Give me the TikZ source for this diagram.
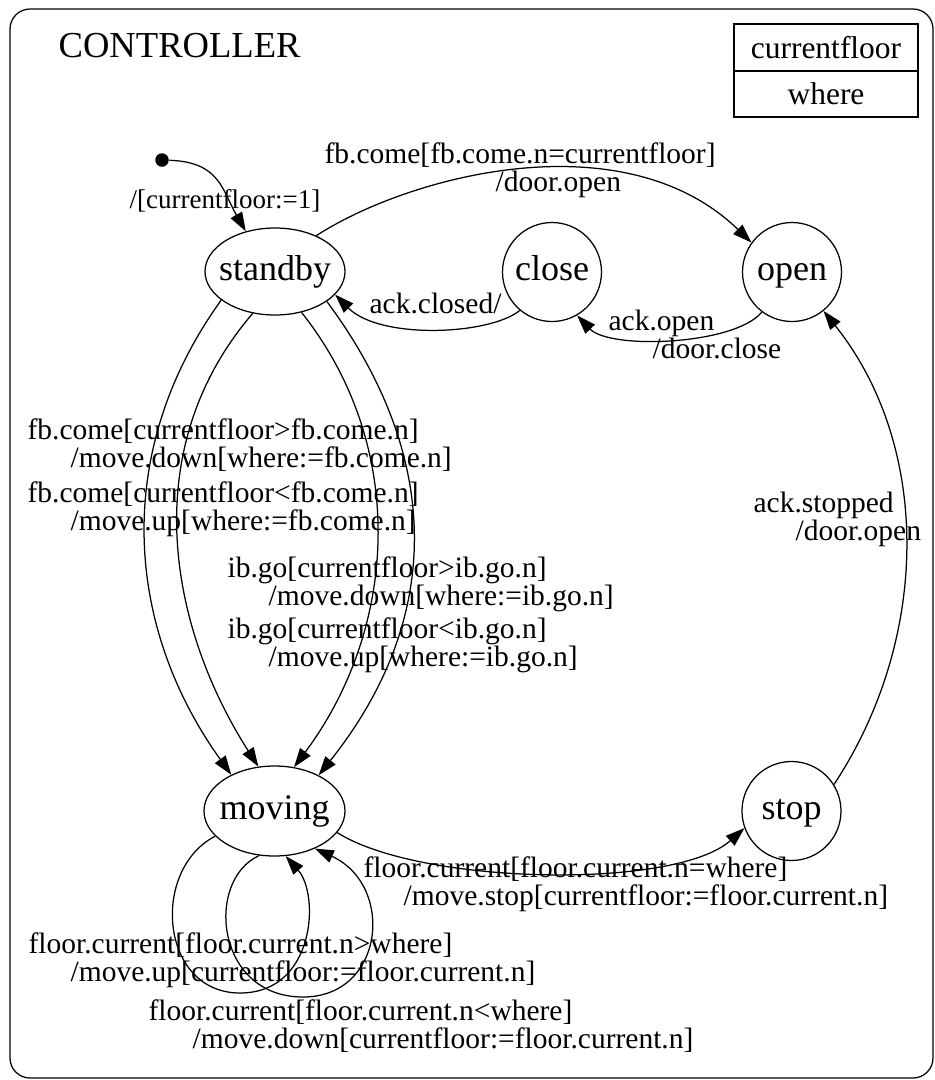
\documentclass[tikz,border=0pt]{standalone}
\usepackage{fontspec}
\setmainfont{Liberation Serif}
\usetikzlibrary{arrows.meta,shapes.geometric}

% two-line transition label: trigger on the first line, indented action below
\newcommand\edgelbl[3]{\vtop{\baselineskip=28.5pt\hbox{#2}\hbox{\kern#1#3}}}

\begin{document}
\begin{tikzpicture}[x=1pt,y=-1pt,line width=1.25pt,
  lbl/.style={font=\fontsize{29.5}{30}\selectfont,inner sep=0pt,anchor=base west},
  trans/.style={-{Triangle[length=19pt,width=13pt]}},
  st/.style={draw,inner sep=0pt},
  stlabel/.style={label={[font=\fontsize{36}{40}\selectfont]center:\vphantom{dy}#1}},
  varbox/.style={draw,inner sep=0pt,minimum width=184pt,font=\fontsize{31.5}{34}\selectfont}]

\useasboundingbox (0,0) rectangle (935,1080);

% enclosing superstate
\draw[rounded corners=20pt] (10,9) rectangle (933,1078);
\node[lbl,font=\fontsize{36.6}{40}\selectfont] (title) at (58,57) {CONTROLLER};

% variables
\node[varbox,minimum height=47pt] (varcur) at (826,47.5) {currentfloor};
\node[varbox,minimum height=46pt] (varwhere) at (826,94) {where};

% states
\node[circle,fill,inner sep=0pt,minimum size=13.5pt] (init) at (162,160) {};
\node[st,ellipse,minimum width=140pt,minimum height=87pt,stlabel=standby] (standby) at (275,271.5) {};
\node[st,circle,minimum size=99pt,stlabel=close] (close) at (552,272) {};
\node[st,circle,minimum size=99pt,stlabel=open] (open) at (792,272) {};
\node[st,ellipse,minimum width=141pt,minimum height=90pt,stlabel=moving] (moving) at (274.5,811) {};
\node[st,circle,minimum size=99pt,stlabel=stop] (stop) at (791.5,811) {};

% initial transition
\draw[trans] (init) .. controls (220,162) and (222,190) .. (standby.126);
\node[lbl,font=\fontsize{27}{30}\selectfont] (l0) at (129,208) {/[currentfloor:=1]};

% door handling
\draw[trans] (standby.41.8) .. controls (412,174) and (625,120) .. (open.144.5);
\node[lbl] (l1) at (324,163) {\edgelbl{171pt}{fb.come[fb.come.n=currentfloor]}{/door.open}};

\draw[trans] (close.230.5) .. controls (490,335) and (380,340) .. (standby.339);
\node[lbl] (l2) at (369,313) {ack.closed/};

\draw[trans] (open.233.8) .. controls (735,345) and (610,350) .. (close.300.4);
\node[lbl] (l3) at (608,330) {\edgelbl{44pt}{ack.open}{/door.close}};

% calls that start the cabin
\draw[trans] (standby.208.2) .. controls (113,450) and (124,625) .. (moving.140.7);
\draw[trans] (standby.242.1) .. controls (136,449) and (169,627) .. (moving.110);
\draw[trans] (standby.303.7) .. controls (409,448) and (397,629) .. (moving.66);
\draw[trans] (standby.330.1) .. controls (443,458) and (443,619) .. (moving.39.6);
\node[lbl] (l4) at (27,439) {\edgelbl{43pt}{fb.come[currentfloor>fb.come.n]}{/move.down[where:=fb.come.n]}};
\node[lbl] (l5) at (27,502) {\edgelbl{43pt}{fb.come[currentfloor<fb.come.n]}{/move.up[where:=fb.come.n]}};
\node[lbl] (l6) at (227,577) {\edgelbl{41pt}{ib.go[currentfloor>ib.go.n]}{/move.down[where:=ib.go.n]}};
\node[lbl] (l7) at (227,638) {\edgelbl{41pt}{ib.go[currentfloor<ib.go.n]}{/move.up[where:=ib.go.n]}};

% arrival
\draw[trans] (stop.32.8) .. controls (930,639) and (932,447) .. (open.309.5);
\node[lbl] (l8) at (753,512) {\edgelbl{42pt}{ack.stopped}{/door.open}};

\draw[trans] (moving.341.2) .. controls (420,885) and (675,890) .. (stop.200);
\node[lbl] (l9) at (363,877) {\edgelbl{40pt}{floor.current[floor.current.n=where]}{/move.stop[currentfloor:=floor.current.n]}};

% passing floors
\draw[trans] (moving.203.6) .. controls (150,870) and (160,993) .. (240,993)
                            .. controls (315,993) and (320,895) .. (moving.284);
\draw[trans] (moving.251.8) .. controls (205,880) and (215,997) .. (303,997)
                            .. controls (385,997) and (395,885) .. (moving.317.4);
\node[lbl] (l10) at (28,953) {\edgelbl{42pt}{floor.current[floor.current.n>where]}{/move.up[currentfloor:=floor.current.n]}};
\node[lbl] (l11) at (148,1020) {\edgelbl{44pt}{floor.current[floor.current.n<where]}{/move.down[currentfloor:=floor.current.n]}};

\end{tikzpicture}
\end{document}
